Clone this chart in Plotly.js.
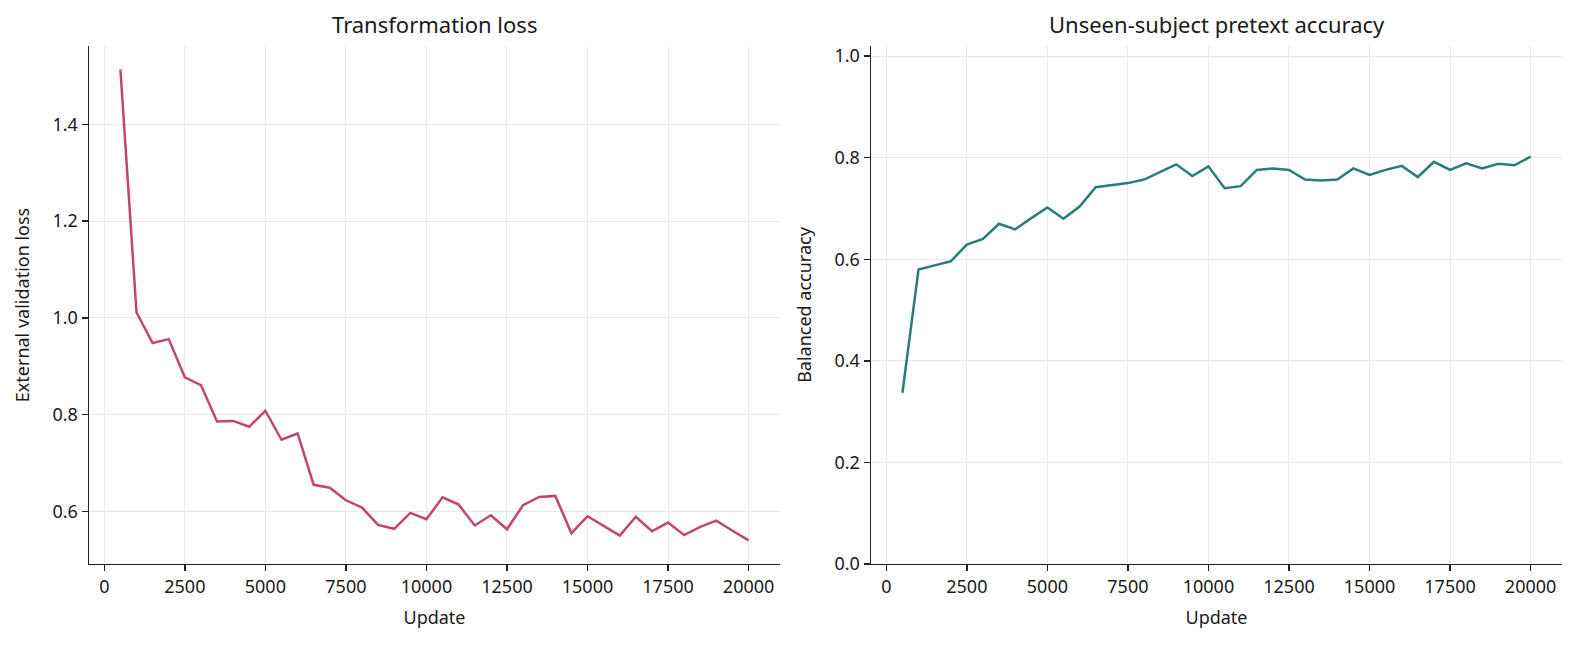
<!DOCTYPE html>
<html>
<head>
<meta charset="utf-8">
<script src="https://cdn.plot.ly/plotly-3.0.1.min.js"></script>
<style>
  html, body { margin: 0; padding: 0; background: #fff; }
  #chart { width: 1577px; height: 647px; }
</style>
</head>
<body>
<div id="chart"></div>
<script>
// Training updates at which validation was run
const updates = [500, 1000, 1500, 2000, 2500, 3000, 3500, 4000, 4500, 5000,
  5500, 6000, 6500, 7000, 7500, 8000, 8500, 9000, 9500, 10000,
  10500, 11000, 11500, 12000, 12500, 13000, 13500, 14000, 14500, 15000,
  15500, 16000, 16500, 17000, 17500, 18000, 18500, 19000, 19500, 20000];

// External validation loss of the transformation head
const transformationLoss = [1.513, 1.011, 0.948, 0.956, 0.877, 0.861, 0.786, 0.787, 0.775, 0.808,
  0.748, 0.761, 0.655, 0.649, 0.623, 0.608, 0.572, 0.564, 0.597, 0.584,
  0.629, 0.614, 0.571, 0.592, 0.563, 0.613, 0.630, 0.632, 0.555, 0.590,
  0.570, 0.550, 0.589, 0.559, 0.577, 0.551, 0.568, 0.581, 0.560, 0.540];

// Balanced accuracy of the pretext task on held-out subjects
const pretextAccuracy = [0.337, 0.580, 0.588, 0.596, 0.629, 0.640, 0.670, 0.659, 0.681, 0.702,
  0.680, 0.704, 0.742, 0.746, 0.750, 0.757, 0.772, 0.787, 0.764, 0.783,
  0.740, 0.744, 0.776, 0.779, 0.776, 0.757, 0.755, 0.757, 0.779, 0.766,
  0.776, 0.784, 0.762, 0.792, 0.776, 0.789, 0.779, 0.788, 0.785, 0.802];

const panelTitles = ['Transformation loss', 'Unseen-subject pretext accuracy'];
const xLabel = 'Update';
const yLabels = ['External validation loss', 'Balanced accuracy'];
const xTicks = [0, 2500, 5000, 7500, 10000, 12500, 15000, 17500, 20000];
const lossTicks = [0.6, 0.8, 1.0, 1.2, 1.4];
const accTicks = [0.0, 0.2, 0.4, 0.6, 0.8, 1.0];

const FONT = 'Noto Sans, DejaVu Sans, sans-serif';
const INK = '#1a1a1a';
const GRID = '#e9e9e9';

// padded range (5% each side) around a series
function padded(arr) {
  const lo = Math.min(...arr), hi = Math.max(...arr);
  const m = (hi - lo) * 0.05;
  return [lo - m, hi + m];
}

const xRange = padded(updates);

function xAxis(domain, anchor) {
  return {
    domain: domain, anchor: anchor, range: xRange,
    tickvals: xTicks, tickformat: 'd',
    showgrid: true, gridcolor: GRID, gridwidth: 1,
    zeroline: false, showline: true, linecolor: '#222', linewidth: 1.5,
    ticks: 'outside', ticklen: 6, tickwidth: 1.4, tickcolor: '#222',
    tickfont: { family: FONT, size: 18, color: INK },
    title: { text: xLabel, font: { family: FONT, size: 18, color: INK }, standoff: 14 }
  };
}

function yAxis(domain, anchor, range, ticks, label) {
  return {
    domain: domain, anchor: anchor, range: range,
    tickvals: ticks, tickformat: '.1f',
    showgrid: true, gridcolor: GRID, gridwidth: 1,
    zeroline: false, showline: true, linecolor: '#222', linewidth: 1.5,
    ticks: 'outside', ticklen: 6, tickwidth: 1.4, tickcolor: '#222',
    tickfont: { family: FONT, size: 18, color: INK },
    title: { text: label, font: { family: FONT, size: 18, color: INK }, standoff: 18 }
  };
}

const yDomain = [0.1283, 0.9289];
const leftDomain = [0.05644, 0.49461];
const rightDomain = [0.55232, 0.99049];

const traces = [
  {
    x: updates, y: transformationLoss, type: 'scatter', mode: 'lines',
    xaxis: 'x', yaxis: 'y',
    line: { color: '#c2476a', width: 2.5 }, hoverinfo: 'x+y'
  },
  {
    x: updates, y: pretextAccuracy, type: 'scatter', mode: 'lines',
    xaxis: 'x2', yaxis: 'y2',
    line: { color: '#267f74', width: 2.5 }, hoverinfo: 'x+y'
  }
];

const layout = {
  width: 1577, height: 647,
  margin: { l: 0, r: 0, t: 0, b: 0 },
  paper_bgcolor: '#ffffff', plot_bgcolor: '#ffffff',
  showlegend: false,
  font: { family: FONT, color: INK },
  xaxis: xAxis(leftDomain, 'y'),
  yaxis: yAxis(yDomain, 'x', padded(transformationLoss), lossTicks, yLabels[0]),
  xaxis2: xAxis(rightDomain, 'y2'),
  yaxis2: yAxis(yDomain, 'x2', [0, 1.02], accTicks, yLabels[1]),
  annotations: [
    {
      text: panelTitles[0], xref: 'x domain', yref: 'paper',
      x: 0.5, y: 0.9625, xanchor: 'center', yanchor: 'middle',
      showarrow: false, font: { family: FONT, size: 22, color: INK }
    },
    {
      text: panelTitles[1], xref: 'x2 domain', yref: 'paper',
      x: 0.5, y: 0.9625, xanchor: 'center', yanchor: 'middle',
      showarrow: false, font: { family: FONT, size: 22, color: INK }
    }
  ]
};

Plotly.newPlot('chart', traces, layout, { displayModeBar: false, staticPlot: true });
</script>
</body>
</html>
